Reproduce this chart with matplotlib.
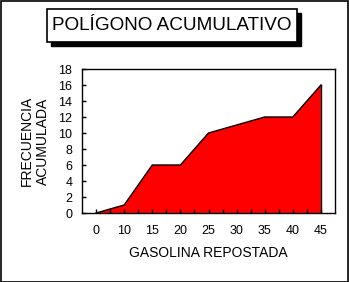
import matplotlib
matplotlib.use('Agg')
import matplotlib.pyplot as plt
from matplotlib.patches import Rectangle

plt.rcParams['font.family'] = ['Liberation Sans', 'DejaVu Sans']

categories = ['0', '10', '15', '20', '25', '30', '35', '40', '45']
acumulada = [0, 1, 6, 6, 10, 11, 12, 12, 16]
yticks = list(range(0, 19, 2))

W, H = 349, 282
fig = plt.figure(figsize=(W / 100, H / 100), dpi=100)

# outer border
fig.patches.append(Rectangle((0.5 / W, 0.5 / H), 1 - 1.5 / W, 1 - 1.5 / H, transform=fig.transFigure,
                             fill=False, edgecolor='black', linewidth=1.2))

# title box with drop shadow
bx, by, bw, bh = 47, 9, 250, 33
fig.patches.append(Rectangle(((bx + 4) / W, 1 - (by + bh + 4) / H), bw / W, bh / H,
                             transform=fig.transFigure, facecolor='black', edgecolor='black'))
fig.patches.append(Rectangle((bx / W, 1 - (by + bh) / H), bw / W, bh / H,
                             transform=fig.transFigure, facecolor='white', edgecolor='black', linewidth=1.2))
fig.text((bx + bw / 2) / W, 1 - (by + bh / 2) / H, 'POLÍGONO ACUMULATIVO',
         ha='center', va='center', fontsize=13.6)

ax = fig.add_axes([82 / W, 1 - 213 / H, 253 / W, 144 / H])
x = list(range(len(categories)))
ax.fill_between(x, acumulada, 0, facecolor='#ff0000', edgecolor='none')
ax.plot(x, acumulada, color='black', linewidth=1)
ax.plot([x[-1], x[-1]], [0, acumulada[-1]], color='black', linewidth=1)

ax.set_xlim(-0.5, len(categories) - 0.5)
ax.set_ylim(0, 18)
ax.set_xticks(x)
ax.set_xticklabels(categories)
ax.set_xticks([i + 0.5 for i in x[:-1]], minor=True)
ax.set_yticks(yticks)
ax.tick_params(axis='both', direction='in', length=3, width=1, labelsize=9)
ax.tick_params(axis='x', which='minor', direction='in', length=3, width=1)
ax.tick_params(axis='x', pad=9)
ax.tick_params(axis='y', pad=7)
for s in ax.spines.values():
    s.set_linewidth(1)

ax.set_ylabel('FRECUENCIA\nACUMULADA', fontsize=10, linespacing=1.2, va='center')
ax.yaxis.set_label_coords(-0.186, 0.5)
ax.set_xlabel('GASOLINA REPOSTADA', fontsize=10, va='center')
ax.xaxis.set_label_coords(0.5, -0.278)

fig.savefig('out.png', dpi=100)
